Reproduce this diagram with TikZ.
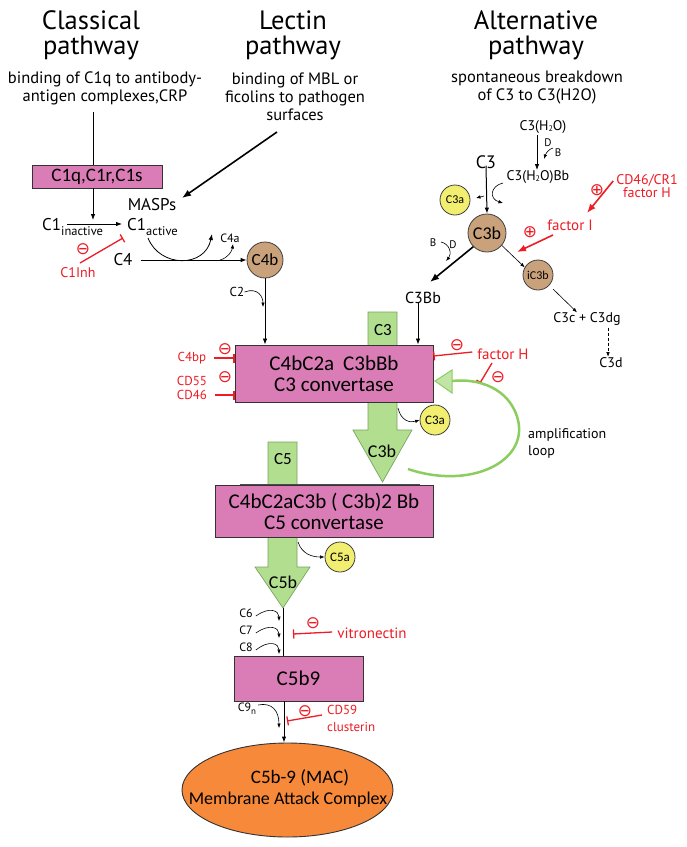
\documentclass[tikz,border=0pt]{standalone}
\usepackage{fontspec}
\setmainfont{PT Sans}
\newfontfamily\boxfont{Carlito}
\newfontfamily\symfont{DejaVu Sans}
\usetikzlibrary{arrows.meta,shapes.geometric}
\definecolor{pinkbox}{RGB}{218,124,182}
\definecolor{tanc}{RGB}{201,162,124}
\definecolor{yellowc}{RGB}{242,238,112}
\definecolor{greenf}{RGB}{178,222,144}
\definecolor{greend}{RGB}{120,165,95}
\definecolor{loopg}{RGB}{140,205,95}
\definecolor{orangec}{RGB}{247,137,58}
\definecolor{redc}{RGB}{238,28,36}
\newcommand\myfs[2]{\fontsize{#1}{#2}\selectfont}
\newcommand\subtxt[1]{\raisebox{-5pt}{\myfs{12.5}{12.5}#1}}
\newcommand\hsub[1]{\raisebox{-1.5pt}{\myfs{8}{8}#1}}
\begin{document}
\begin{tikzpicture}[x=1pt,y=-1pt,
  lbl/.style={inner sep=0pt,align=center},
  redlbl/.style={lbl,text=redc},
  pbox/.style={draw=black!80,line width=0.9pt,fill=pinkbox,inner sep=0pt,align=center},
  ball/.style={circle,draw=black!75,line width=0.8pt,inner sep=0pt,minimum size=#1},
  tanball/.style={ball=#1,fill=tanc},
  yelball/.style={ball=#1,fill=yellowc},
  arr/.style={line width=0.8pt,-{Latex[length=6pt,width=4.5pt]}},
  thinarr/.style={line width=0.6pt,-{Latex[length=4.5pt,width=3.5pt]}},
  bigarr/.style={line width=1.6pt,-{Latex[length=9pt,width=7pt]}},
  redarr/.style={redc,line width=1.6pt,-{Latex[length=9pt,width=7pt]}},
  inh/.style={redc,line width=1.3pt,-{Bar[width=9pt,line width=1.3pt]}},
  garrow/.style={fill=greenf,draw=greend,line width=0.7pt},
  sym/.style={inner sep=0pt,text=redc,font=\symfont\myfs{17}{17}},
]
\useasboundingbox (0,0) rectangle (687,847);
\fill[white] (0,0) rectangle (687,847);

% ---------- titles ----------
\node[lbl,font=\myfs{26.5}{25}] (tcl) at (91,35) {Classical\\pathway};
\node[lbl,font=\myfs{26.5}{25}] (tle) at (293,35) {Lectin\\pathway};
\node[lbl,font=\myfs{26.5}{25}] (tal) at (536,35) {Alternative\\pathway};
\node[lbl,font=\myfs{16.5}{18}] (scl) at (105,88) {binding of C1q to antibody-\\antigen complexes,CRP};
\node[lbl,font=\myfs{16.5}{18}] (sle) at (295,97) {binding of MBL or\\ficolins to pathogen\\surfaces};
\node[lbl,font=\myfs{16.5}{18}] (sal) at (537,88) {spontaneous breakdown\\of C3 to C3(H2O)};

% ---------- classical / lectin ----------
\coordinate (clstart) at (93,112);
\node[pbox,minimum width=130pt,minimum height=23pt,font=\boxfont\myfs{19}{19}] (c1q) at (97,176.5) {C1q,C1r,C1s};
\draw[line width=0.9pt] (clstart) -- (clstart |- c1q.north);
\coordinate (c1join) at (93,220);
\draw[arr] (clstart |- c1q.south) -- (c1join);

\node[lbl,anchor=base west,font=\myfs{17}{17}] (c1in) at (42,230) {C1\subtxt{inactive}};
\node[lbl,anchor=base west,font=\myfs{17}{17}] (c1ac) at (127,230) {C1\subtxt{active}};
\node[lbl,font=\myfs{17}{17}] (masps) at (152,205) {MASPs};
\coordinate (c1a) at (67,224);
\coordinate (c1b) at (122,224);
\draw[arr] (c1a) -- (c1b);

\coordinate (lecstart) at (277,132);
\coordinate (maspsin) at (182,198);
\draw[bigarr] (lecstart) -- (maspsin);

\node[redlbl,font=\myfs{14}{14}] (c1inh) at (78,273) {C1Inh};
\node[sym] (m1) at (83,249) {⊖};
\coordinate (inhA) at (80,263);
\coordinate (inhB) at (123,238);
\draw[inh] (inhA) -- (inhB);

\node[lbl,font=\myfs{17}{17}] (c4) at (123,260) {C4};
\node[tanball=36pt,font=\boxfont\myfs{17}{17}] (c4b) at (265,260) {C4b};
\draw[arr] ([xshift=8pt]c4.east) -- (c4b.west);
\node[lbl,font=\myfs{12}{12}] (c4a) at (230,238) {C4a};
\draw[arr] (148,238) .. controls (160,268) and (205,268) .. (212,234);
\draw[thinarr] (220,260) .. controls (228,258) and (232,251) .. (233,244);

\node[lbl,font=\myfs{13}{13}] (c2) at (237,292) {C2};
\draw[thinarr] (c2.east) .. controls (258,287) and (263,297) .. (263,307);

% ---------- C3 convertase ----------
\draw[garrow] (368,312) -- (397,312) -- (397,430) -- (412,430) -- (382.5,482) -- (353,430) -- (368,430) -- cycle;
\node[lbl,font=\boxfont\myfs{17}{17}] (c3lab) at (383,330) {C3};
\node[lbl,font=\boxfont\myfs{18}{18}] (c3blab) at (382,451) {C3b};

\node[pbox,minimum width=198pt,minimum height=57pt,font=\boxfont\myfs{21}{21}] (conv3) at (334,373.5) {C4bC2a\hspace{9pt}C3bBb\\C3 convertase};
\draw[arr] (c4b.south) -- (c4b.south |- conv3.north);

\node[lbl,font=\myfs{16}{16}] (c3bb) at (423,298) {C3Bb};
\draw[arr] ([xshift=-5pt,yshift=2pt]c3bb.south) -- ([xshift=-5pt]c3bb.south |- conv3.north);

\node[yelball=30pt,font=\boxfont\myfs{13}{13}] (c3am) at (435,420) {C3a};
\draw[thinarr] (398,408) .. controls (401,421) and (410,423) .. (c3am.west);

\node[redlbl,font=\myfs{15}{15}] (fh) at (503,354) {factor H};
\draw[inh] ([xshift=-5pt,yshift=2pt]fh.west) -- (conv3.east |- 0,356);
\node[sym] (m2) at (457,345) {⊖};
\coordinate (fhA) at (492,363);
\coordinate (fhB) at (480,383);
\draw[inh] (fhA) -- (fhB);
\node[sym] (m3) at (498,377) {⊖};

\node[redlbl,font=\myfs{13}{13}] (c4bp) at (192,358) {C4bp};
\node[redlbl,font=\myfs{13}{13}] (cd55) at (192,381) {CD55};
\node[redlbl,font=\myfs{13}{13}] (cd46) at (192,395) {CD46};
\draw[inh] ([xshift=8pt]c4bp.east) -- (conv3.west |- c4bp);
\draw[inh] ([xshift=8pt]cd46.east) -- (conv3.west |- cd46);
\node[sym] (m4) at (225,349) {⊖};
\node[sym] (m5) at (225,377) {⊖};

% amplification loop
\draw[loopg,line width=2.5pt] (408,469) .. controls (470,490) and (528,462) .. (518,420) .. controls (510,388) and (478,378) .. (452,381);
\draw[fill=greenf!80!white,draw=loopg,line width=1pt] (435,381) -- (452,370) -- (452,393) -- cycle;
\node[lbl,anchor=west,align=left,font=\myfs{14}{17}] (amp) at (528,443) {amplification\\loop};

% ---------- C5 convertase ----------
\draw[garrow] (268,442) -- (297,442) -- (297,567) -- (310,567) -- (283,608) -- (255,567) -- (268,567) -- cycle;
\node[lbl,font=\boxfont\myfs{17}{17}] (c5lab) at (283,459) {C5};
\node[lbl,font=\boxfont\myfs{18}{18}] (c5blab) at (283,582) {C5b};
\draw[black!70,line width=1.2pt] (240,484.3) -- (420,484.3);
\node[pbox,minimum width=218pt,minimum height=52pt,font=\boxfont\myfs{21}{21}] (conv5) at (324,511) {C4bC2aC3b ( C3b)2 Bb\\C5 convertase};

\node[yelball=30pt,font=\boxfont\myfs{13}{13}] (c5a) at (340,557) {C5a};
\draw[thinarr] (298,542) .. controls (302,554) and (312,557) .. (c5a.west);

% ---------- MAC ----------
\node[pbox,minimum width=129pt,minimum height=45pt,font=\boxfont\myfs{21}{21}] (c5b9) at (298.5,678.5) {C5b9};
\coordinate (c5btip) at (283,608);
\draw[line width=1pt] (c5btip) -- (c5btip |- c5b9.north);

\node[lbl,font=\myfs{12}{12}] (c6) at (246,613) {C6};
\node[lbl,font=\myfs{12}{12}] (c7) at (246,630) {C7};
\node[lbl,font=\myfs{12}{12}] (c8) at (246,647) {C8};
\draw[thinarr] ([xshift=3pt,yshift=-3pt]c6.east) .. controls (270,606) and (279,611) .. (279,621);
\draw[thinarr] ([xshift=3pt,yshift=-3pt]c7.east) .. controls (270,623) and (279,628) .. (279,638);
\draw[thinarr] ([xshift=3pt,yshift=-3pt]c8.east) .. controls (270,639) and (279,644) .. (279,654);

\node[redlbl,font=\myfs{15}{15}] (vit) at (372,633) {vitronectin};
\draw[inh] ([xshift=-5pt,yshift=1pt]vit.west) -- (293,634);
\node[sym] (m6) at (313,623) {⊖};

\node[ellipse,draw=black!80,line width=0.9pt,fill=orangec,minimum width=211pt,minimum height=94pt] (mac) at (287.5,790) {};
\node[lbl,font=\boxfont\myfs{19}{19}] (mac1) at (300,778) {C5b-9 (MAC)};
\node[lbl,font=\boxfont\myfs{18}{18}] (mac2) at (288,800) {Membrane Attack Complex};

\node[lbl,font=\myfs{12}{12}] (c9) at (247,709) {C9\raisebox{-3pt}{\myfs{9}{9}n}};
\draw[thinarr] (258,705) .. controls (272,702) and (279,711) .. (279,728);
\draw[arr,line width=1pt] ([xshift=-14.5pt]c5b9.south) -- ([xshift=-3.5pt]mac.north);

\node[redlbl,anchor=west,align=left,font=\myfs{13}{17}] (cd59) at (327,718) {CD59\\clusterin};
\draw[inh] ([xshift=-5pt,yshift=3pt]cd59.west) -- (287,721);
\node[sym] (m7) at (305,711) {⊖};

% ---------- alternative ----------
\node[lbl,font=\myfs{14}{14}] (c3h2o) at (543,127) {C3(H\hsub{2}O)};
\coordinate (h2oA) at (537,135);
\coordinate (h2oB) at (537,170);
\draw[arr] (h2oA) -- (h2oB);
\node[lbl,font=\myfs{11}{11}] (d1) at (548,143) {D};
\node[lbl,font=\myfs{11}{11}] (b1) at (558,153) {B};
\draw[thinarr] (553,148) .. controls (549,149) and (546,153) .. (544,159);
\node[lbl,font=\myfs{14}{14}] (c3h2obb) at (538,177) {C3(H\hsub{2}O)Bb};

\node[lbl,font=\myfs{18}{18}] (c3) at (486,162) {C3};
\node[tanball=38pt,font=\boxfont\myfs{18}{18}] (c3b) at (487,233) {C3b};
\node[yelball=30pt,font=\boxfont\myfs{12}{12}] (c3at) at (455,200) {C3a};
\draw[arr,line width=1pt] ([yshift=3pt]c3.south) -- (c3b.north);
\draw[thinarr] (503,183) .. controls (490,186) and (489,199) .. (503,203);
\draw[thinarr] (484,196) -- (476,198);

\coordinate (c3bbend) at (430,282);
\draw[bigarr] (c3b.225) -- (c3bbend);
\node[lbl,font=\myfs{11}{11}] (b2) at (433,243) {B};
\node[lbl,font=\myfs{11}{11}] (d2) at (453,245) {D};
\draw[thinarr] (441,242) .. controls (450,244) and (452,254) .. (446,261);

\node[tanball=30pt,font=\boxfont\myfs{12}{12}] (ic3b) at (538,275) {iC3b};
\draw[thinarr] (c3b.-40) -- (ic3b.150);

\node[redlbl,font=\myfs{15}{15}] (fi) at (570,225) {factor I};
\node[sym] (p1) at (530,232) {⊕};
\coordinate (fiA) at (553,235);
\coordinate (fiB) at (517,252);
\draw[redarr] (fiA) -- (fiB);

\node[redlbl,font=\myfs{14}{13}] (cd46cr1) at (647,186) {CD46/CR1\\factor H};
\node[sym] (p2) at (597,190) {⊕};
\draw[redarr] ([xshift=-3pt,yshift=5pt]cd46cr1.west) -- (587,213);

\node[lbl,font=\myfs{14}{14}] (c3c) at (587,319) {C3c + C3dg};
\draw[thinarr] (553,289) -- (c3c.north -| 577,0);
\node[lbl,font=\myfs{14}{14}] (c3d) at (611,363) {C3d};
\draw[thinarr,densely dashed] ([xshift=21pt,yshift=-2pt]c3c.south) -- ([yshift=1pt]c3d.north -| 608,0);

\end{tikzpicture}
\end{document}
